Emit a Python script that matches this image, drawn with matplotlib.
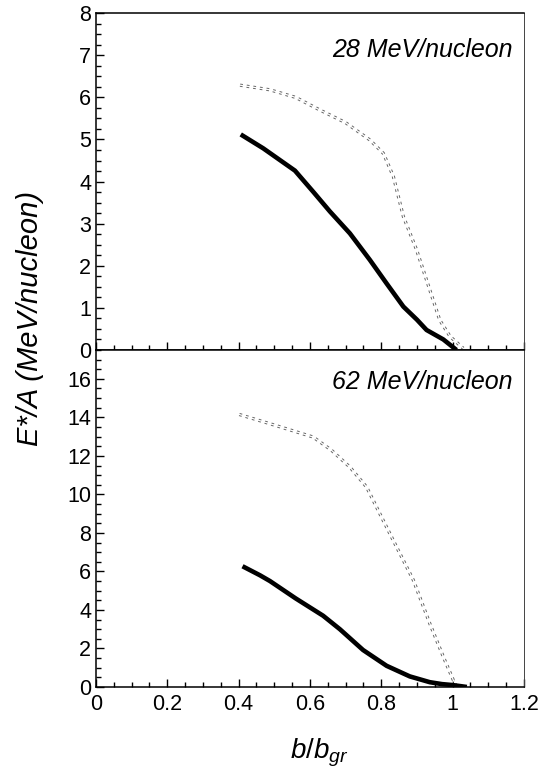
import numpy as np
import matplotlib
matplotlib.use('Agg')
import matplotlib.pyplot as plt
from matplotlib.ticker import MultipleLocator, FuncFormatter
import matplotlib.patheffects as pe

plt.rcParams['font.family'] = ['Liberation Sans', 'DejaVu Sans']
plt.rcParams['lines.scale_dashes'] = False
plt.rcParams['mathtext.fontset'] = 'custom'
plt.rcParams['mathtext.it'] = 'Liberation Sans:italic'
plt.rcParams['mathtext.rm'] = 'Liberation Sans'

# 28 MeV/nucleon
x28_solid = [0.406, 0.469, 0.558, 0.61, 0.656, 0.712, 0.768, 0.815, 0.862, 0.90, 0.927, 0.974, 1.011]
y28_solid = [5.12, 4.79, 4.26, 3.75, 3.29, 2.77, 2.14, 1.58, 1.03, 0.72, 0.475, 0.25, 0.0]
x28_dash = [0.404, 0.488, 0.56, 0.628, 0.70, 0.768, 0.806, 0.834, 0.862, 0.899, 0.936, 0.964, 0.993, 1.03]
y28_dash = [6.29, 6.18, 6.0, 5.7, 5.4, 4.99, 4.67, 4.12, 3.17, 2.38, 1.43, 0.71, 0.32, 0.04]

# 62 MeV/nucleon
x62_solid = [0.411, 0.46, 0.488, 0.56, 0.637, 0.684, 0.749, 0.815, 0.88, 0.936, 0.97, 1.0, 1.04]
y62_solid = [6.27, 5.8, 5.5, 4.6, 3.7, 3.0, 1.92, 1.1, 0.55, 0.25, 0.15, 0.1, 0.0]
x62_dash = [0.402, 0.488, 0.609, 0.66, 0.712, 0.759, 0.796, 0.843, 0.89, 0.936, 0.974, 1.002, 1.01]
y62_dash = [14.15, 13.67, 12.98, 12.3, 11.42, 10.38, 9.0, 7.27, 5.55, 3.3, 1.57, 0.36, 0.05]

labels = ['28 MeV/nucleon', '62 MeV/nucleon']

fig = plt.figure(figsize=(5.39, 7.76), dpi=100)
ax1 = fig.add_axes([0.178, 0.549, 0.794, 0.434])
ax2 = fig.add_axes([0.178, 0.1147, 0.794, 0.4343])

def draw_dash(ax, x, y):
    ln, = ax.plot(x, y, color='#666666', lw=2.3, solid_capstyle='butt')
    ln.set_dashes((2.0, 2.8))
    ax.plot(x, y, color='white', lw=0.9)

for ax in (ax1, ax2):
    ax.set_xlim(0, 1.2)
    ax.xaxis.set_major_locator(MultipleLocator(0.2))
    ax.xaxis.set_minor_locator(MultipleLocator(0.05))
    ax.tick_params(which='both', direction='in', top=False, right=False,
                   labelsize=15.5, width=1)
    ax.tick_params(which='major', length=6)
    ax.tick_params(which='minor', length=3.5)
    for s in ax.spines.values():
        s.set_linewidth(1.1)
    ax.spines['right'].set_linewidth(0.7)
    ax.spines['right'].set_color('#444444')

ax1.set_ylim(0, 8)
ax1.yaxis.set_major_locator(MultipleLocator(1))
ax1.yaxis.set_minor_locator(MultipleLocator(0.25))
ax1.tick_params(labelbottom=False)

ax2.set_ylim(0, 17.5)
ax2.yaxis.set_major_locator(MultipleLocator(2))
ax2.yaxis.set_minor_locator(MultipleLocator(0.5))
ax2.xaxis.set_major_formatter(FuncFormatter(lambda v, p: '%g' % round(v, 2)))
ax2.tick_params(axis='x', pad=5)

draw_dash(ax1, x28_dash, y28_dash)
ax1.plot(x28_solid, y28_solid, color='black', lw=3.3, solid_capstyle='butt')
draw_dash(ax2, x62_dash, y62_dash)
ax2.plot(x62_solid, y62_solid, color='black', lw=3.3, solid_capstyle='butt')

ax1.text(0.974, 0.891, labels[0], transform=ax1.transAxes, ha='right', va='center',
         fontsize=18, style='italic')
ax2.text(0.974, 0.906, labels[1], transform=ax2.transAxes, ha='right', va='center',
         fontsize=18, style='italic')

fig.text(0.056, 0.589, 'E*/A (MeV/nucleon)', rotation=90, ha='center', va='center',
         fontsize=21, style='italic')
fig.text(0.593, 0.03, r'$b/b_{gr}$', ha='center', va='center', fontsize=20)

fig.savefig('out.png', dpi=100)
